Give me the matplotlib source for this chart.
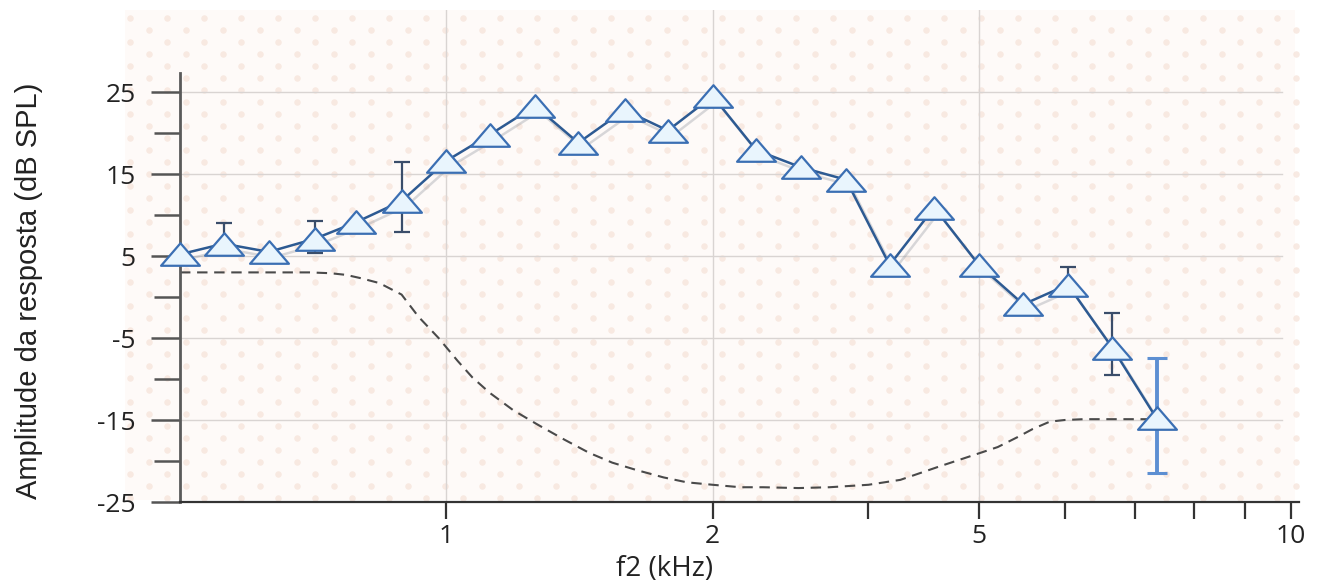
import numpy as np
import matplotlib
matplotlib.use('Agg')
import matplotlib.pyplot as plt
from matplotlib.path import Path
import matplotlib.patheffects as pe
from matplotlib.ticker import FixedLocator, FixedFormatter, NullFormatter

# ---------------- data ----------------
freq_khz = [0.50, 0.56, 0.63, 0.71, 0.79, 0.89, 1.00, 1.12, 1.26, 1.41, 1.59, 1.78,
            2.00, 2.24, 2.52, 2.83, 3.17, 3.56, 4.00, 4.49, 5.04, 5.66, 6.35]
amplitude = [5.2, 6.5, 5.5, 7.1, 9.1, 11.7, 16.6, 19.8, 23.3, 18.8, 22.8, 20.3,
             24.5, 17.9, 15.8, 14.3, 3.9, 10.9, 3.9, -0.9, 1.5, -6.2, -14.8]
err_hi = [0, 2.5, 0, 2.2, 0, 4.8, 0, 0, 0, 0, 0, 0,
          0, 0, 0, 0, 0, 0, 0, 0, 2.2, 4.2, 0]
err_lo = [0, 0.8, 0, 1.7, 0, 3.8, 0, 0, 0, 0, 0, 0,
          0, 0, 0, 0, 0, 0, 0, 0, 0.8, 3.3, 0]
last_err_hi = [7.4]
last_err_lo = [6.7]

noise_freq = [0.50, 0.60, 0.70, 0.74, 0.77, 0.80, 0.84, 0.89, 0.93, 0.98, 1.03, 1.07,
              1.12, 1.19, 1.27, 1.36, 1.45, 1.54, 1.64, 1.76, 1.87, 2.00, 2.15, 2.28,
              2.50, 2.71, 3.00, 3.26, 3.60, 3.94, 4.20, 4.42, 4.60, 4.81, 5.00, 5.25,
              5.60, 6.00, 6.35]
noise_amp = [3.0, 3.0, 3.0, 2.9, 2.7, 2.3, 1.7, 0.3, -2.4, -5.0, -7.8, -9.8,
             -11.7, -13.8, -15.6, -17.4, -19.0, -20.2, -21.1, -22.0, -22.6, -22.9, -23.2, -23.2,
             -23.3, -23.2, -22.9, -22.3, -20.7, -19.3, -18.3, -17.1, -16.1, -15.2, -15.0, -14.9,
             -14.9, -14.9, -14.9]

y_major = [25, 15, 5, -5, -15, -25]
y_minor = [20, 10, 0, -10, -20]
x_ticks = [1, 2, 3, 4, 5, 6, 7, 8, 9]
x_ticklabels = ['1', '2', '', '5', '', '', '', '', '10']
x_grid = [1, 2, 4]

# ---------------- figure ----------------
W, H, DPI = 1319, 588, 100
fig = plt.figure(figsize=(W / DPI, H / DPI), dpi=DPI, facecolor='white')

# faint dotted background texture (decoration)
bg = fig.add_axes([0, 0, 1, 1], zorder=-1)
bg.set_xlim(0, W); bg.set_ylim(H, 0); bg.axis('off')
bg.add_patch(plt.Rectangle((125, 10), 1170, 490, facecolor='#fefaf8', edgecolor='none'))
gx, gy = np.meshgrid(np.arange(130, 1295, 37.0), np.arange(18, 500, 12.0))
gx = gx + (np.arange(gx.shape[0])[:, None] % 2) * 18.5
bg.scatter(gx.ravel(), gy.ravel(), s=22, marker='o', color='#f6e4da', alpha=0.75,
           linewidths=0)

ax = fig.add_axes([180 / W, 86 / H, 1119 / W, 492 / H], zorder=1)
ax.patch.set_alpha(0.0)

ax.set_xscale('log')
ax.set_xlim(0.5, 9.2)
ax.set_ylim(-25, 35)

# grid
for v in [25, 15, 5, -5, -15]:
    ax.axhline(v, color='#d9d4d2', lw=1.0, zorder=0.5, xmax=0.985)
for f in x_grid:
    ax.axvline(f, color='#d9d4d2', lw=1.0, zorder=0.5)

# noise floor
ax.plot(noise_freq, noise_amp, color='#4a4a4a', lw=1.5, ls=(0, (5, 3.2)), zorder=2)

# triangle marker (wide)
tri = Path([(0, 0.58), (-1, -0.58), (1, -0.58), (0, 0.58)],
           [Path.MOVETO, Path.LINETO, Path.LINETO, Path.CLOSEPOLY])

# error bars (behind markers)
ax.errorbar(freq_khz[:-1], amplitude[:-1], yerr=[err_lo[:-1], err_hi[:-1]], fmt='none',
            ecolor='#3a4d6a', elinewidth=1.6, capsize=6, capthick=1.6, zorder=3)
ax.errorbar(freq_khz[-1:], amplitude[-1:], yerr=[last_err_lo, last_err_hi], fmt='none',
            ecolor='#5d8fd2', elinewidth=2.8, capsize=7, capthick=2.2, zorder=3)

# main curve
shadow = [pe.SimpleLineShadow(offset=(3, -4), shadow_color='#7f8590', alpha=0.3),
          pe.Normal()]
ax.plot(freq_khz, amplitude, color='#2d5a92', lw=1.8, zorder=4, path_effects=shadow)
ax.plot(freq_khz, amplitude, ls='none', marker=tri, ms=28, mfc='#e9f5fd',
        mec='#3b6fb3', mew=1.6, zorder=5, clip_on=False)

# spines
for s in ['top', 'right']:
    ax.spines[s].set_visible(False)
ax.spines['left'].set_bounds(-25, 27.3)
ax.spines['left'].set_color('#5a5a5a')
ax.spines['left'].set_linewidth(2.0)
ax.spines['bottom'].set_color('#333333')
ax.spines['bottom'].set_linewidth(1.6)

# y ticks
ax.yaxis.set_major_locator(FixedLocator(y_major))
ax.yaxis.set_minor_locator(FixedLocator(y_minor))
ax.yaxis.set_minor_formatter(NullFormatter())
ax.set_yticklabels([str(v) for v in y_major])
ax.tick_params(axis='y', which='both', direction='out', length=21, width=1.8,
               color='#555555', pad=11, labelsize=19, labelcolor='#222222')
ax.tick_params(axis='y', which='minor', length=19)

# x ticks
ax.xaxis.set_major_locator(FixedLocator(x_ticks))
ax.xaxis.set_major_formatter(FixedFormatter(x_ticklabels))
ax.xaxis.set_minor_locator(FixedLocator([]))
ax.tick_params(axis='x', which='major', direction='out', length=12, width=1.6,
               color='#333333', pad=4, labelsize=19, labelcolor='#222222')

for lab in ax.get_xticklabels() + ax.get_yticklabels():
    lab.set_fontfamily('Open Sans')

ax.set_xlabel('f2 (kHz)', fontsize=20, family='Open Sans', color='#222222')
ax.xaxis.set_label_coords((665 - 180) / 1119, -0.108)
ax.set_ylabel('Amplitude da resposta (dB SPL)', fontsize=21, family='Liberation Sans',
              color='#222222')
ax.yaxis.set_label_coords(-0.122, 0.43)

fig.savefig('out.png', dpi=DPI, facecolor='white')
